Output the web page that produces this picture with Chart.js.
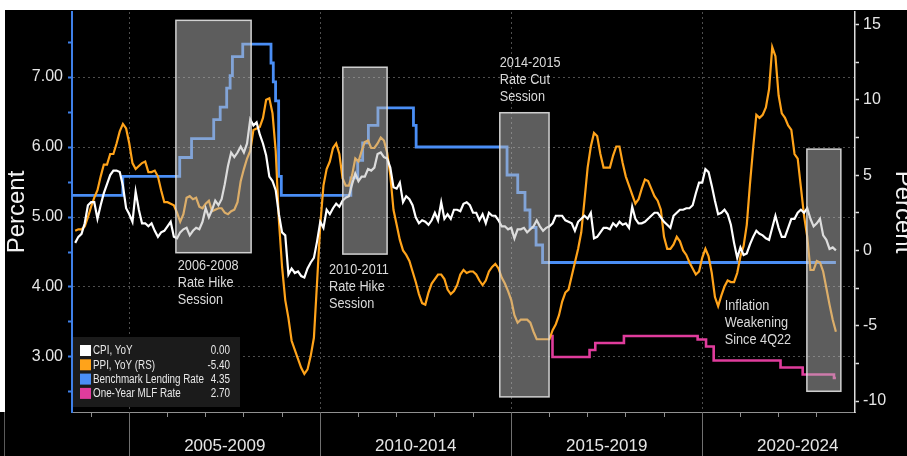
<!DOCTYPE html>
<html>
<head>
<meta charset="utf-8">
<script src="https://cdn.jsdelivr.net/npm/chart.js@4.4.0/dist/chart.umd.min.js"></script>
<style>
  html, body { margin: 0; padding: 0; background: #fff; }
  body { width: 907px; height: 456px; position: relative; overflow: hidden; }
  #wrap { position: absolute; left: 5px; top: 10px; width: 902px; height: 446px; background: #000; }
  #corner { position: absolute; left: 0; top: 412px; width: 4px; height: 44px; background: #000; border-right: 1px solid #5a5a5a; }
</style>
</head>
<body>
<div id="wrap"><canvas id="chart" width="902" height="446"></canvas></div>
<div id="corner"></div>
<script>
// monthly readings, July 2003 .. June 2023 (plotted at month end)
const firstMonth = [2003, 7];

const cpiYoY = [
  0.5, 0.9, 1.1, 1.8, 3.0, 3.2,
  3.2, 2.1, 3.0, 3.8, 4.4, 5.0, 5.3, 5.3, 5.2, 4.3, 2.8, 2.4,
  1.9, 3.9, 2.7, 1.8, 1.8, 1.6, 1.8, 1.3, 0.9, 1.2, 1.3, 1.6,
  1.9, 0.9, 0.8, 1.2, 1.4, 1.5, 1.0, 1.3, 1.5, 1.4, 1.9, 2.8,
  2.2, 2.7, 3.3, 3.0, 3.4, 4.4, 5.6, 6.5, 6.2, 6.5, 6.9, 6.5,
  7.1, 8.7, 8.3, 8.5, 7.7, 7.1, 6.3, 4.9, 4.6, 4.0, 2.4, 1.2,
  1.0, -1.6, -1.2, -1.5, -1.4, -1.7, -1.8, -1.2, -0.8, -0.5, 0.6, 1.9,
  1.5, 2.7, 2.4, 2.8, 3.1, 2.9, 3.3, 3.5, 3.6, 4.4, 5.1, 4.6,
  4.9, 4.9, 5.4, 5.3, 5.5, 6.4, 6.5, 6.2, 6.1, 5.5, 4.2, 4.1,
  4.5, 3.2, 3.6, 3.4, 3.0, 2.2, 1.8, 2.0, 1.9, 1.7, 2.0, 2.5,
  2.0, 3.2, 2.1, 2.4, 2.1, 2.7, 2.7, 2.6, 3.1, 3.2, 3.0, 2.5,
  2.5, 2.0, 2.4, 1.8, 2.5, 2.3, 2.3, 2.0, 1.6, 1.6, 1.4, 1.5,
  0.8, 1.4, 1.4, 1.5, 1.2, 1.4, 1.6, 2.0, 1.6, 1.3, 1.5, 1.6,
  1.8, 2.3, 2.3, 2.3, 2.0, 1.9, 1.8, 1.3, 1.9, 2.1, 2.3, 2.1,
  2.5, 0.8, 0.9, 1.2, 1.5, 1.5, 1.4, 1.8, 1.6, 1.9, 1.7, 1.8,
  1.5, 2.9, 2.1, 1.8, 1.8, 1.9, 2.1, 2.3, 2.5, 2.5, 2.2, 1.9,
  1.7, 1.5, 2.3, 2.5, 2.7, 2.7, 2.8, 2.8, 3.0, 3.8, 4.5, 4.5,
  5.4, 5.2, 4.3, 3.3, 2.4, 2.5, 2.7, 2.4, 1.7, 0.5, -0.5, 0.2,
  -0.3, -0.2, 0.4, 0.9, 1.3, 1.1, 1.0, 0.8, 0.7, 1.5, 2.3, 1.5,
  0.9, 0.9, 1.5, 2.1, 2.1, 2.5, 2.7, 2.5, 2.8, 2.1, 1.6, 1.8,
  2.1, 1.0, 0.7, 0.1, 0.2, 0.0
];

const ppiYoY = [
  1.3, 1.4, 1.4, 1.6, 2.2, 2.9,
  3.5, 4.0, 4.9, 5.7, 5.7, 6.4, 6.4, 7.1, 7.9, 8.4, 8.1, 7.1,
  5.8, 5.4, 5.6, 5.8, 5.9, 5.2, 5.2, 5.3, 4.9, 4.0, 3.2, 3.2,
  3.1, 3.0, 2.5, 1.9, 2.4, 3.5, 3.6, 3.4, 3.5, 2.9, 2.8, 3.1,
  3.3, 2.6, 2.7, 2.8, 2.8, 2.5, 2.4, 2.6, 2.7, 3.2, 4.6, 5.4,
  6.1, 6.6, 8.0, 8.1, 8.2, 8.8, 10.0, 10.1, 9.1, 6.6, 2.0, -1.1,
  -3.3, -4.5, -6.0, -6.6, -7.2, -7.8, -8.2, -7.9, -7.0, -5.8, -2.1, 1.7,
  4.3, 5.4, 5.9, 6.8, 7.1, 6.4, 4.8, 4.3, 4.3, 5.0, 6.1, 5.9,
  6.6, 7.2, 7.3, 6.8, 6.8, 7.1, 7.5, 7.3, 6.5, 5.0, 2.7, 1.7,
  0.7, 0.0, -0.3, -0.7, -1.4, -2.1, -2.9, -3.5, -3.6, -2.8, -2.2, -1.9,
  -1.6, -1.6, -1.9, -2.6, -2.9, -2.7, -2.3, -1.6, -1.3, -1.5, -1.4, -1.4,
  -1.6, -2.0, -2.3, -2.0, -1.4, -1.1, -0.9, -1.2, -1.8, -2.2, -2.7, -3.3,
  -4.3, -4.8, -4.6, -4.6, -4.6, -4.8, -5.4, -5.9, -5.9, -5.9, -5.9, -5.9,
  -5.3, -4.9, -4.3, -3.4, -2.8, -2.6, -1.7, -0.8, 0.1, 1.2, 3.3, 5.5,
  6.9, 7.8, 7.6, 6.4, 5.5, 5.5, 5.5, 6.3, 6.9, 6.9, 5.8, 4.9,
  4.3, 3.7, 3.1, 3.4, 4.1, 4.7, 4.6, 4.1, 3.6, 3.3, 2.7, 0.9,
  0.1, 0.1, 0.4, 0.9, 0.6, 0.0, -0.3, -0.8, -1.2, -1.6, -1.4, -0.5,
  0.1, -0.4, -1.5, -3.1, -3.7, -3.0, -2.4, -2.0, -2.1, -2.1, -1.5, -0.4,
  0.3, 1.7, 4.4, 6.8, 9.0, 8.8, 9.0, 9.5, 10.7, 13.5, 12.9, 10.3,
  9.1, 8.8, 8.3, 8.0, 6.4, 6.1, 4.2, 2.3, 0.9, -1.3, -1.3, -0.7,
  -0.8, -1.4, -2.5, -3.6, -4.6, -5.4
];

// policy rates: date of each change (decimal year) and the level after it
const lendingDates = [2003.5, 2004.83, 2006.32, 2006.63, 2007.21, 2007.38, 2007.55, 2007.64, 2007.70, 2007.97,
  2008.71, 2008.77, 2008.83, 2008.91, 2008.98, 2010.80, 2010.98, 2011.11, 2011.26, 2011.51,
  2012.44, 2012.51, 2014.89, 2015.17, 2015.36, 2015.49, 2015.65, 2015.82, 2023.5];
const lendingRates = [5.31, 5.58, 5.85, 6.12, 6.39, 6.57, 6.84, 7.02, 7.29, 7.47,
  7.20, 6.93, 6.66, 5.58, 5.31, 5.56, 5.81, 6.06, 6.31, 6.56,
  6.31, 6.00, 5.60, 5.35, 5.10, 4.85, 4.60, 4.35, 4.35];

const mlfDates = [2016.0, 2016.08, 2017.05, 2017.2, 2017.95, 2019.88, 2020.1, 2020.3, 2022.05, 2022.63, 2023.45, 2023.5];
const mlfRates = [3.30, 3.00, 3.10, 3.20, 3.30, 3.25, 3.15, 2.95, 2.85, 2.75, 2.70, 2.70];

const seriesNames = ['CPI, YoY', 'PPI, YoY (RS)', 'Benchmark Lending Rate', 'One-Year MLF Rate'];
const lastValues = ['0.00', '-5.40', '4.35', '2.70'];
const seriesColors = ['#ffffff', '#ffa31a', '#4a8ef5', '#e03c9c'];

const periodStarts = [2005, 2010, 2015, 2020];
const periodLabels = ['2005-2009', '2010-2014', '2015-2019', '2020-2024'];
const yearTicks = [2004, 2005, 2006, 2007, 2008, 2009, 2010, 2011, 2012, 2013, 2014,
  2015, 2016, 2017, 2018, 2019, 2020, 2021, 2022, 2023];
const leftTicks = [2.5, 3, 3.5, 4, 4.5, 5, 5.5, 6, 6.5, 7, 7.5];
const rightTicks = [-10, -7.5, -5, -2.5, 0, 2.5, 5, 7.5, 10, 12.5, 15];

// shaded sessions: start/end year, top/bottom on the left axis
const sessions = [
  {from: 2006.22, to: 2008.19, top: 7.81, bottom: 4.49},
  {from: 2010.59, to: 2011.75, top: 7.14, bottom: 4.47},
  {from: 2014.70, to: 2015.99, top: 6.49, bottom: 2.43},
  {from: 2022.74, to: 2023.63, top: 5.97, bottom: 2.51}
];
const notes = [
  {x: 2006.27, y: 4.31, lines: ['2006-2008', 'Rate Hike', 'Session']},
  {x: 2010.23, y: 4.24, lines: ['2010-2011', 'Rate Hike', 'Session']},
  {x: 2014.70, y: 7.20, lines: ['2014-2015', 'Rate Cut', 'Session']},
  {x: 2020.59, y: 3.73, lines: ['Inflation', 'Weakening', 'Since 4Q22']}
];

const sans = "'Liberation Sans', Arial, sans-serif";

const monthX = i => firstMonth[0] + (firstMonth[1] + i) / 12;
const monthly = vals => vals.map((v, i) => ({x: monthX(i), y: v}));
const steps = (dates, rates) => dates.map((d, i) => ({x: d, y: rates[i]}));

// the source uses a narrow face, so squeeze Liberation Sans horizontally
function narrowText(ctx, text, x, y, align) {
  ctx.save();
  ctx.translate(x, y);
  ctx.scale(0.82, 1);
  ctx.textAlign = align;
  ctx.fillText(text, 0, 0);
  ctx.restore();
}

const overlay = {
  id: 'overlay',
  afterDatasetsDraw(chart) {
    const {ctx, scales: {x, yL}} = chart;
    ctx.save();
    sessions.forEach(s => {
      const x0 = x.getPixelForValue(s.from), x1 = x.getPixelForValue(s.to);
      const y0 = yL.getPixelForValue(s.top), y1 = yL.getPixelForValue(s.bottom);
      ctx.fillStyle = 'rgba(185,185,185,0.5)';
      ctx.fillRect(x0, y0, x1 - x0, y1 - y0);
      ctx.strokeStyle = 'rgba(225,225,225,0.9)';
      ctx.lineWidth = 1.5;
      ctx.strokeRect(x0, y0, x1 - x0, y1 - y0);
    });
    ctx.font = '15.5px ' + sans;
    ctx.fillStyle = '#dadada';
    ctx.textBaseline = 'middle';
    notes.forEach(n => {
      const px = x.getPixelForValue(n.x), py = yL.getPixelForValue(n.y);
      n.lines.forEach((t, k) => narrowText(ctx, t, px, py + k * 17, 'left'));
    });
    ctx.restore();
  },
  afterDraw(chart) {
    const {ctx, chartArea, scales: {x}} = chart;
    ctx.save();
    // long separators and period names under the axis
    ctx.strokeStyle = '#707070';
    ctx.lineWidth = 1;
    periodStarts.forEach(p => {
      const px = Math.round(x.getPixelForValue(p)) + 0.5;
      ctx.beginPath();
      ctx.moveTo(px, chartArea.bottom);
      ctx.lineTo(px, chart.height);
      ctx.stroke();
    });
    ctx.font = '17px ' + sans;
    ctx.fillStyle = '#e6e6e6';
    ctx.textAlign = 'center';
    ctx.textBaseline = 'middle';
    periodLabels.forEach((t, i) => {
      ctx.fillText(t, x.getPixelForValue(periodStarts[i] + 2.5), 436);
    });

    // legend box
    const lx = 68, ly = 327, lw = 167, lh = 70;
    ctx.fillStyle = '#1b1b1b';
    ctx.fillRect(lx, ly, lw, lh);
    ctx.font = '12px ' + sans;
    ctx.textBaseline = 'middle';
    seriesNames.forEach((name, i) => {
      const cy = ly + 13.5 + i * 14.3;
      ctx.fillStyle = seriesColors[i];
      ctx.fillRect(lx + 7, cy - 5.5, 11, 11);
      ctx.fillStyle = '#e8e8e8';
      narrowText(ctx, name, lx + 20, cy + 0.5, 'left');
      narrowText(ctx, lastValues[i], lx + 157, cy + 0.5, 'right');
    });
    ctx.restore();
  }
};

const noPad = s => { s.paddingTop = 0; s.paddingBottom = 0; };

new Chart(document.getElementById('chart'), {
  type: 'line',
  data: {
    datasets: [
      {label: seriesNames[0], data: monthly(cpiYoY), yAxisID: 'yR', borderColor: seriesColors[0]},
      {label: seriesNames[1], data: monthly(ppiYoY), yAxisID: 'yR', borderColor: seriesColors[1]},
      {label: seriesNames[2], data: steps(lendingDates, lendingRates), yAxisID: 'yL', borderColor: seriesColors[2], stepped: true, borderWidth: 2.8},
      {label: seriesNames[3], data: steps(mlfDates, mlfRates), yAxisID: 'yL', borderColor: seriesColors[3], stepped: true, borderWidth: 2.6}
    ]
  },
  options: {
    responsive: false,
    animation: false,
    devicePixelRatio: 1,
    layout: {padding: {top: 2, left: 0, right: 0, bottom: 0}},
    elements: {point: {radius: 0}, line: {borderWidth: 2.2, tension: 0}},
    plugins: {legend: {display: false}, tooltip: {enabled: false}},
    scales: {
      x: {
        type: 'linear',
        min: 2003.5,
        max: 2024,
        afterBuildTicks: s => { s.ticks = yearTicks.map(v => ({value: v})); },
        afterFit: s => { s.height = 44; s.paddingLeft = 0; s.paddingRight = 0; },
        ticks: {display: false},
        grid: {
          color: c => (c.tick && periodStarts.includes(c.tick.value)) ? '#4e4e4e' : 'transparent',
          tickColor: '#909090',
          tickLength: 5
        },
        border: {color: '#909090', width: 1, dash: [2, 3]}
      },
      yL: {
        position: 'left',
        min: 2.214,
        max: 7.929,
        afterBuildTicks: s => { s.ticks = leftTicks.map(v => ({value: v})); },
        afterFit: s => { s.width = 67; noPad(s); },
        ticks: {
          color: '#e6e6e6',
          font: {family: sans, size: 16},
          padding: 5,
          autoSkip: false,
          callback: v => Number.isInteger(v) ? v.toFixed(2) : ''
        },
        grid: {
          color: c => (c.tick && Number.isInteger(c.tick.value)) ? '#4e4e4e' : 'transparent',
          tickColor: '#3f80e8',
          tickLength: 4,
          tickWidth: 2
        },
        border: {color: '#3f80e8', width: 2, dash: [2, 3]},
        title: {display: true, text: 'Percent', color: '#f2f2f2', font: {family: sans, size: 24, lineHeight: 1}, padding: {top: 0, bottom: 0}}
      },
      yR: {
        position: 'right',
        min: -10.73,
        max: 15.83,
        afterBuildTicks: s => { s.ticks = rightTicks.map(v => ({value: v})); },
        afterFit: s => { s.width = 52; noPad(s); },
        ticks: {
          color: '#e6e6e6',
          font: {family: sans, size: 16},
          padding: 4,
          autoSkip: false,
          callback: v => v % 5 === 0 ? String(v) : ''
        },
        grid: {drawOnChartArea: false, tickColor: '#dddddd', tickLength: 4, tickWidth: 1.5},
        border: {color: '#dddddd', width: 1.5},
        title: {display: true, text: 'Percent', color: '#f2f2f2', font: {family: sans, size: 24, lineHeight: 1}, padding: {top: -8, bottom: 0}}
      }
    }
  },
  plugins: [overlay]
});
</script>
</body>
</html>
